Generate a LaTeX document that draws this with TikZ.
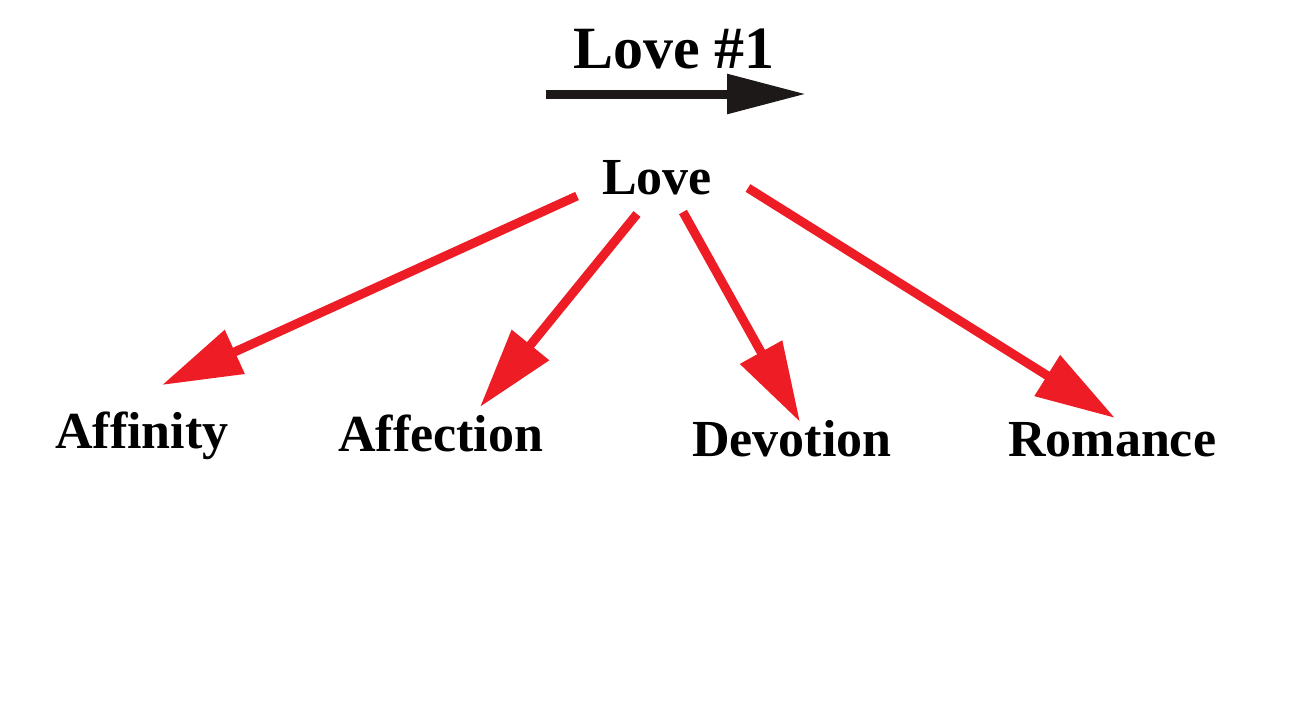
\documentclass[tikz,border=0pt]{standalone}
\usepackage{fontspec}
\setmainfont{Liberation Serif}
\usetikzlibrary{arrows.meta}
\definecolor{arrowred}{RGB}{238,28,37}
\definecolor{arrowblack}{RGB}{30,25,25}
\tikzset{
  lbl/.style={anchor=base west, inner sep=0pt, font=\fontsize{52}{60}\selectfont\bfseries},
  redarrow/.style={draw=arrowred, line width=9pt, -{Triangle[length=80pt,width=46pt]}},
  blackarrow/.style={draw=arrowblack, line width=9pt, -{Triangle[length=79pt,width=38pt]}}
}
\begin{document}
\begin{tikzpicture}[x=1pt,y=-1pt]
\useasboundingbox[fill=white] (0,0) rectangle (1309,718);
\node[lbl, font=\fontsize{60}{68}\selectfont\bfseries] (title) at (573,68) {Love \#1};
\coordinate (ta) at (546,94);
\coordinate (tb) at (806,94);
\draw[blackarrow] (ta) -- (tb);
\node[lbl] (love) at (602,194) {Love};
\node[lbl] (affinity) at (55,448) {Affinity};
\node[lbl] (affection) at (338,451) {Affection};
\node[lbl] (devotion) at (692,456) {Devotion};
\node[lbl] (romance) at (1008,456) {Romance};
\coordinate (s1) at (577,196);
\coordinate (e1) at (162,385);
\coordinate (s2) at (637,214);
\coordinate (e2) at (480,407);
\coordinate (s3) at (683,212);
\coordinate (e3) at (800,422);
\coordinate (s4) at (748,188);
\coordinate (e4) at (1115,418);
\draw[redarrow] (s1) -- (e1);
\draw[redarrow] (s2) -- (e2);
\draw[redarrow] (s3) -- (e3);
\draw[redarrow] (s4) -- (e4);
\end{tikzpicture}
\end{document}
